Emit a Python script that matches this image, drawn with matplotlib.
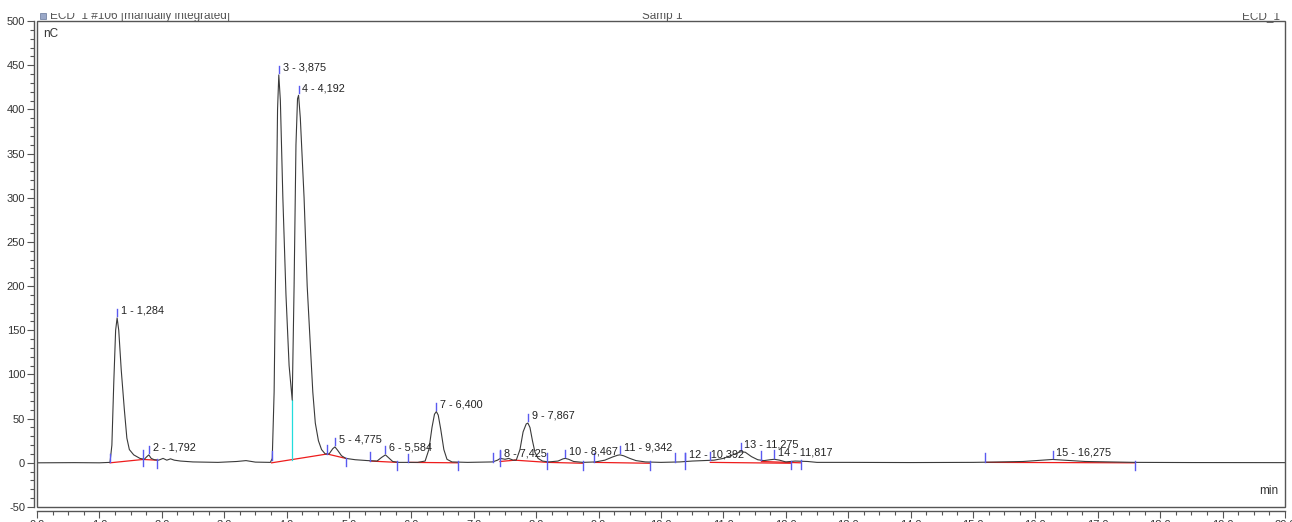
import numpy as np
import matplotlib.pyplot as plt
from matplotlib.patches import Rectangle
from matplotlib.ticker import MultipleLocator, FormatStrFormatter

plt.rcParams['font.family'] = ['Liberation Sans', 'DejaVu Sans']
plt.rcParams['axes.unicode_minus'] = False

# ECD_1 trace, retention time (min) vs. signal (nC)
trace_t = [0.0, 0.6, 1.0, 1.17, 1.20, 1.23, 1.26, 1.284, 1.31, 1.35, 1.40, 1.44,
           1.48, 1.55, 1.65, 1.72, 1.76, 1.792, 1.83, 1.88, 1.95, 2.02, 2.08, 2.14,
           2.20, 2.30, 2.50, 2.90, 3.20, 3.35, 3.50, 3.74,
           3.77, 3.80, 3.83, 3.855, 3.875, 3.90, 3.94, 3.99, 4.04, 4.09,
           4.12, 4.15, 4.175, 4.192, 4.22, 4.28, 4.33, 4.375, 4.42, 4.46, 4.51,
           4.56, 4.62, 4.68, 4.74, 4.775, 4.82, 4.88, 4.95, 5.10, 5.30, 5.45,
           5.52, 5.584, 5.63, 5.70, 5.80, 6.10, 6.22, 6.28, 6.33, 6.37, 6.40,
           6.43, 6.47, 6.52, 6.57, 6.65, 6.90, 7.30, 7.38, 7.425, 7.50, 7.56,
           7.63, 7.68, 7.74, 7.79, 7.84, 7.867, 7.90, 7.94, 7.98, 8.03, 8.10,
           8.20, 8.35, 8.43, 8.467, 8.52, 8.60, 8.75, 8.95, 9.10, 9.22, 9.30,
           9.342, 9.40, 9.50, 9.60, 9.75, 10.0, 10.30, 10.392, 10.50, 10.70,
           10.85, 11.0, 11.15, 11.275, 11.35, 11.45, 11.55, 11.65, 11.75,
           11.817, 11.90, 12.0, 12.15, 12.35, 12.50, 13.0, 14.0, 15.0, 15.3,
           15.8, 16.1, 16.275, 16.45, 16.8, 17.3, 17.6, 18.5, 20.0]
trace_v = [0.0, 0.2, 0.0, 0.5, 20, 90, 150, 164, 150, 105, 60, 28,
           15, 9, 5, 4, 7, 9, 5, 3.5, 3, 5, 3, 4.5,
           3, 2, 1, 0.5, 1.5, 2.5, 0.8, 0.5,
           5, 80, 250, 400, 439, 410, 300, 190, 110, 71,
           200, 360, 412, 416, 390, 300, 200, 139, 80, 45, 25,
           15, 10, 10, 16, 18, 14, 8, 5, 3.5, 2.5, 2,
           6, 9, 6, 1.5, 0.5, 0.5, 2, 15, 40, 55, 58,
           54, 38, 15, 4, 1, 0.5, 1, 3, 5, 4, 5,
           3, 3, 15, 35, 44, 45, 40, 25, 12, 5, 2,
           1, 2, 4.5, 5, 4, 1.5, 0.5, 1, 3, 6.5, 8.5,
           9, 8, 5, 2.5, 1, 0.5, 1, 1.5, 2, 2.5,
           3, 5, 9, 12.5, 12, 7, 3.5, 2.5, 3.5,
           4, 3, 1, 2, 1.5, 0.5, 0.5, 0.3, 0.5, 0.8,
           1.5, 3, 3.8, 3, 1.5, 0.8, 0.5, 0.3, 0.2]

# integrated peaks
peak_num = [1, 2, 3, 4, 5, 6, 7, 8, 9, 10, 11, 12, 13, 14, 15]
peak_rt = [1.284, 1.792, 3.875, 4.192, 4.775, 5.584, 6.400, 7.425, 7.867,
           8.467, 9.342, 10.392, 11.275, 11.817, 16.275]
peak_height = [164, 9, 439, 416, 18, 9, 58, 3, 45, 5, 9, 1.5, 12.5, 4, 3.8]

# integration baselines: (start t, start v, end t, end v)
base_t0 = [1.17, 1.70, 3.76, 4.65, 5.34, 5.95, 7.42, 7.66, 8.18, 8.93, 10.79, 11.61, 15.20]
base_v0 = [0.0, 3.8, 0.0, 10.0, 2.0, 0.5, 1.5, 3.0, 0.5, 0.5, 0.5, 1.5, 0.5]
base_t1 = [1.70, 1.92, 4.65, 4.95, 5.77, 6.75, 7.66, 8.18, 8.75, 9.82, 12.09, 12.24, 17.60]
base_v1 = [3.8, 3.0, 10.0, 5.0, 0.5, 0.0, 3.0, 0.5, -0.5, -0.5, -0.5, 0.0, 0.0]

# peak start/end delimiters
delim_t = [1.17, 1.70, 1.92, 3.76, 4.65, 4.95, 5.34, 5.77, 5.95, 6.75, 7.30, 7.42,
           8.18, 8.75, 8.93, 9.82, 10.22, 10.38, 10.79, 11.61, 12.09, 12.24, 15.20, 17.60]
delim_kind = ['up', 'cross', 'down', 'up', 'up', 'down', 'up', 'down', 'up', 'down', 'up', 'cross',
              'cross', 'down', 'up', 'down', 'up', 'cross', 'up', 'up', 'down', 'down', 'up', 'down']

# valley drop between peaks 3 and 4
valley_t = 4.09

fig = plt.figure(figsize=(12.92, 5.22), dpi=100)
ax = fig.add_axes([37 / 1292, 15 / 522, 1248 / 1292, 486 / 522])

ax.set_xlim(0, 20)
ax.set_ylim(-50, 500)

ax.plot(trace_t, trace_v, color='#3a3a3a', lw=0.8, zorder=3)

for t0, v0, t1, v1 in zip(base_t0, base_v0, base_t1, base_v1):
    ax.plot([t0, t1], [v0, v1], color='#ee1c1c', lw=0.9, zorder=2)

vb = np.interp(valley_t, [3.76, 4.65], [0.0, 10.0])
ax.plot([valley_t, valley_t], [vb, np.interp(valley_t, trace_t, trace_v)],
        color='#22dddd', lw=0.9, zorder=2)

blue = '#5a5af0'
for t, kind in zip(delim_t, delim_kind):
    b = np.interp(t, trace_t, trace_v)
    lo, hi = {'up': (b, b + 10), 'down': (b - 9, b + 1), 'cross': (b - 8, b + 10)}[kind]
    ax.plot([t, t], [lo, hi], color=blue, lw=1.0, zorder=4)

for n, t, h in zip(peak_num, peak_rt, peak_height):
    ax.plot([t, t], [h + 2, h + 10], color=blue, lw=1.0, zorder=4)
    label = f'{n} - {t:.3f}'.replace('.', ',')
    ax.text(t + 0.06, h + 8, label, fontsize=7.8, color='#222222',
            va='center', ha='left', zorder=5)

# frame box plus offset axis lines
frame_c = '#555555'
ax.add_patch(Rectangle((0, 0), 1, 1, transform=ax.transAxes, fill=False,
                       ec=frame_c, lw=1.0, clip_on=False, zorder=6))
ax.spines['top'].set_visible(False)
ax.spines['right'].set_visible(False)
ax.spines['left'].set_position(('outward', 2))
ax.spines['bottom'].set_position(('outward', 3))
for s in ('left', 'bottom'):
    ax.spines[s].set_color(frame_c)
    ax.spines[s].set_linewidth(1.0)

ax.yaxis.set_major_locator(MultipleLocator(50))
ax.yaxis.set_minor_locator(MultipleLocator(10))
ax.xaxis.set_major_locator(MultipleLocator(1))
ax.xaxis.set_minor_locator(MultipleLocator(0.25))
ax.xaxis.set_major_formatter(FormatStrFormatter('%.1f'))
ax.tick_params(axis='both', which='major', length=5, width=0.8, color=frame_c,
               labelsize=8, labelcolor='#333333', pad=1.5)
ax.tick_params(axis='both', which='minor', length=3, width=0.8, color=frame_c)

ax.text(0.005, 0.985, 'nC', transform=ax.transAxes, fontsize=8.5,
        color='#333333', va='top', ha='left')
ax.text(0.995, 0.02, 'min', transform=ax.transAxes, fontsize=8.5,
        color='#333333', va='bottom', ha='right')

# header line above the frame
fig.text(50 / 1292, 1 - 19 / 522, 'ECD_1 #106 [manually integrated]', fontsize=8.5,
         color='#555555', va='baseline', ha='left')
fig.add_artist(Rectangle((40 / 1292, 1 - 19 / 522), 6 / 1292, 6 / 522,
                         transform=fig.transFigure, fc='#9aa8c8', ec='#667799', lw=0.5))
fig.text(662 / 1292, 1 - 19 / 522, 'Samp 1', fontsize=8.5, color='#555555',
         va='baseline', ha='center')
fig.text(1280 / 1292, 1 - 19 / 522, 'ECD_1', fontsize=8.5, color='#555555',
         va='baseline', ha='right')
fig.add_artist(Rectangle((0, 1 - 13 / 522), 1, 13 / 522, transform=fig.transFigure,
                         fc='white', ec='none', zorder=20))

fig.savefig('out.png', dpi=100)
